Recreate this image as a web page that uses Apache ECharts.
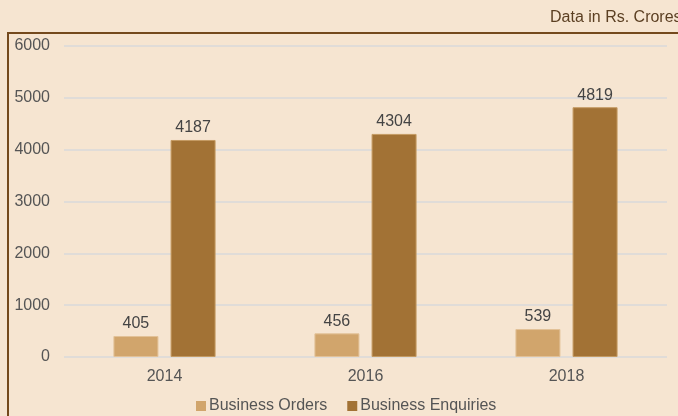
<!DOCTYPE html>
<html>
<head>
<meta charset="utf-8">
<script src="https://cdn.jsdelivr.net/npm/echarts@6/dist/echarts.min.js"></script>
<style>
  html, body { margin: 0; padding: 0; background: #f6e5d1; }
  #chart { width: 678px; height: 416px; }
</style>
</head>
<body>
<div id="chart"></div>
<script>
// 数据
const years = ['2014', '2016', '2018']
const businessOrders = [405, 456, 539]
const businessEnquiries = [4187, 4304, 4819]
const yTicks = [0, 1000, 2000, 3000, 4000, 5000, 6000]

const chart = echarts.init(document.getElementById('chart'))
const font = 'Liberation Sans, Arial'
const labelStyle = { show: true, position: 'top', color: '#444', fontSize: 16, fontFamily: font, distance: 4 }

chart.setOption({
    backgroundColor: '#f6e5d1',
    textStyle: { fontFamily: font },
    graphic: [
        { type: 'rect', left: 7, top: 32, shape: { width: 720, height: 420 }, style: { fill: 'transparent', stroke: '#74491c', lineWidth: 2 }, silent: true },
        { type: 'text', left: 550, top: 10, style: { text: 'Data in Rs. Crores', fill: '#5b3f22', fontSize: 16, fontFamily: font } },
    ],
    grid: { left: 64, right: 11, top: 46, bottom: 59 },
    legend: {
        top: 393, left: 191, itemWidth: 10, itemHeight: 10, itemGap: 20,
        icon: 'rect',
        itemStyle: { borderWidth: 0 },
        textStyle: { color: '#555', fontSize: 16, padding: [0, 0, 0, -2] },
        data: ['Business Orders', 'Business Enquiries'],
    },
    xAxis: {
        type: 'category', data: years,
        axisLine: { show: false }, axisTick: { show: false },
        axisLabel: { color: '#555', fontSize: 16, margin: 12 },
    },
    yAxis: {
        type: 'value', min: yTicks[0], max: yTicks[yTicks.length - 1], interval: 1000,
        axisLine: { show: false }, axisTick: { show: false },
        axisLabel: { color: '#555', fontSize: 16, margin: 14, formatter: (v) => String(v) },
        splitLine: { lineStyle: { color: '#e0dcd8', width: 2 } },
    },
    series: [
        { name: 'Business Orders', type: 'bar', data: businessOrders, barWidth: 45, barGap: '27%',
          itemStyle: { color: '#d1a56c', borderColor: '#e2c197', borderWidth: 1 }, label: labelStyle },
        { name: 'Business Enquiries', type: 'bar', data: businessEnquiries, barWidth: 45,
          itemStyle: { color: '#a27235', borderColor: '#c49a62', borderWidth: 1 }, label: labelStyle },
    ],
})
</script>
</body>
</html>
